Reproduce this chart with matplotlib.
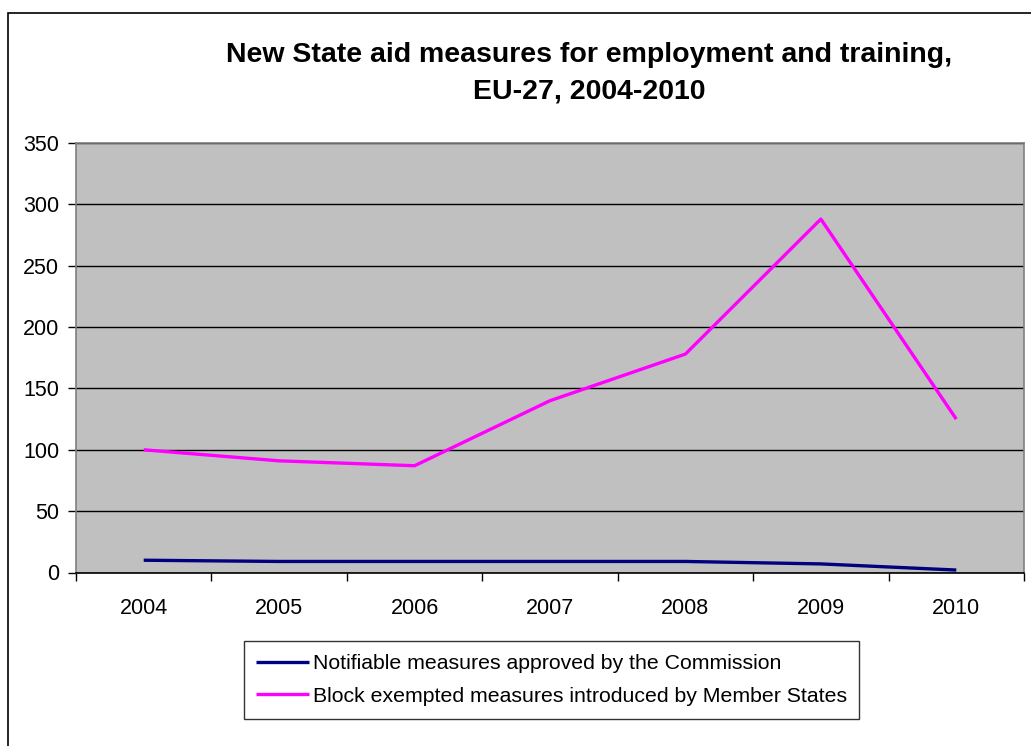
import matplotlib
matplotlib.use("Agg")
import matplotlib.pyplot as plt
from matplotlib.patches import Rectangle

plt.rcParams['font.family'] = ['Liberation Sans', 'DejaVu Sans']

# 数据
years = ["2004", "2005", "2006", "2007", "2008", "2009", "2010"]
notifiable = [10, 9, 9, 9, 9, 7, 2]
block_exempted = [100, 91, 87, 140, 178, 288, 125]
y_ticks = [0, 50, 100, 150, 200, 250, 300, 350]

W, H = 1031, 746
fig = plt.figure(figsize=(W / 100, H / 100), dpi=100)
fig.patch.set_facecolor("white")

# 外框
fig.patches.append(Rectangle((8 / W, -0.01), 1.2, 1 - 13 / H + 0.01,
                             transform=fig.transFigure, fill=False,
                             edgecolor="black", linewidth=1.2))

ax = fig.add_axes([76 / W, 1 - 572.5 / H, (1024 - 76) / W, (572.5 - 143) / H])
ax.set_facecolor("#C0C0C0")

x = list(range(len(years)))
ax.plot(x, notifiable, color="#000080", linewidth=2.4,
        label="Notifiable measures approved by the Commission", solid_capstyle="butt")
ax.plot(x, block_exempted, color="#FF00FF", linewidth=2.4,
        label="Block exempted measures introduced by Member States", solid_capstyle="butt")

ax.set_xlim(-0.5, len(years) - 0.5)
ax.set_ylim(0, 350)
ax.set_yticks(y_ticks)
ax.set_yticklabels([str(v) for v in y_ticks], fontsize=15.5)
ax.yaxis.grid(True, color="black", linewidth=1.0)
ax.set_axisbelow(True)

# x 轴: 刻度线在类别边界, 标签在中间
ax.set_xticks([i - 0.5 for i in range(len(years) + 1)])
ax.set_xticklabels([])
ax.set_xticks(x, minor=True)
ax.set_xticklabels(years, minor=True, fontsize=15.5)
ax.tick_params(axis="x", which="major", direction="out", length=6, width=1, color="black")
ax.tick_params(axis="x", which="minor", length=0, pad=18)
ax.tick_params(axis="y", direction="out", length=6, width=1, color="black", pad=6)

for side in ["left", "right", "top"]:
    ax.spines[side].set_color("#808080")
    ax.spines[side].set_linewidth(1.2)
ax.spines["bottom"].set_color("black")
ax.spines["bottom"].set_linewidth(1.2)

fig.text(589.5 / W, 1 - 73 / H,
         "New State aid measures for employment and training,\nEU-27, 2004-2010",
         ha="center", va="center", fontsize=20.5, fontweight="bold", linespacing=1.55)

leg = fig.legend(loc="center", bbox_to_anchor=(551.5 / W, 1 - 680 / H),
                 fontsize=15.3, frameon=True, fancybox=False, edgecolor="black",
                 handlelength=2.5, handletextpad=0.15, borderpad=0.6,
                 labelspacing=0.65, borderaxespad=0)
leg.get_frame().set_linewidth(1.0)

fig.savefig("out.png", dpi=100)
